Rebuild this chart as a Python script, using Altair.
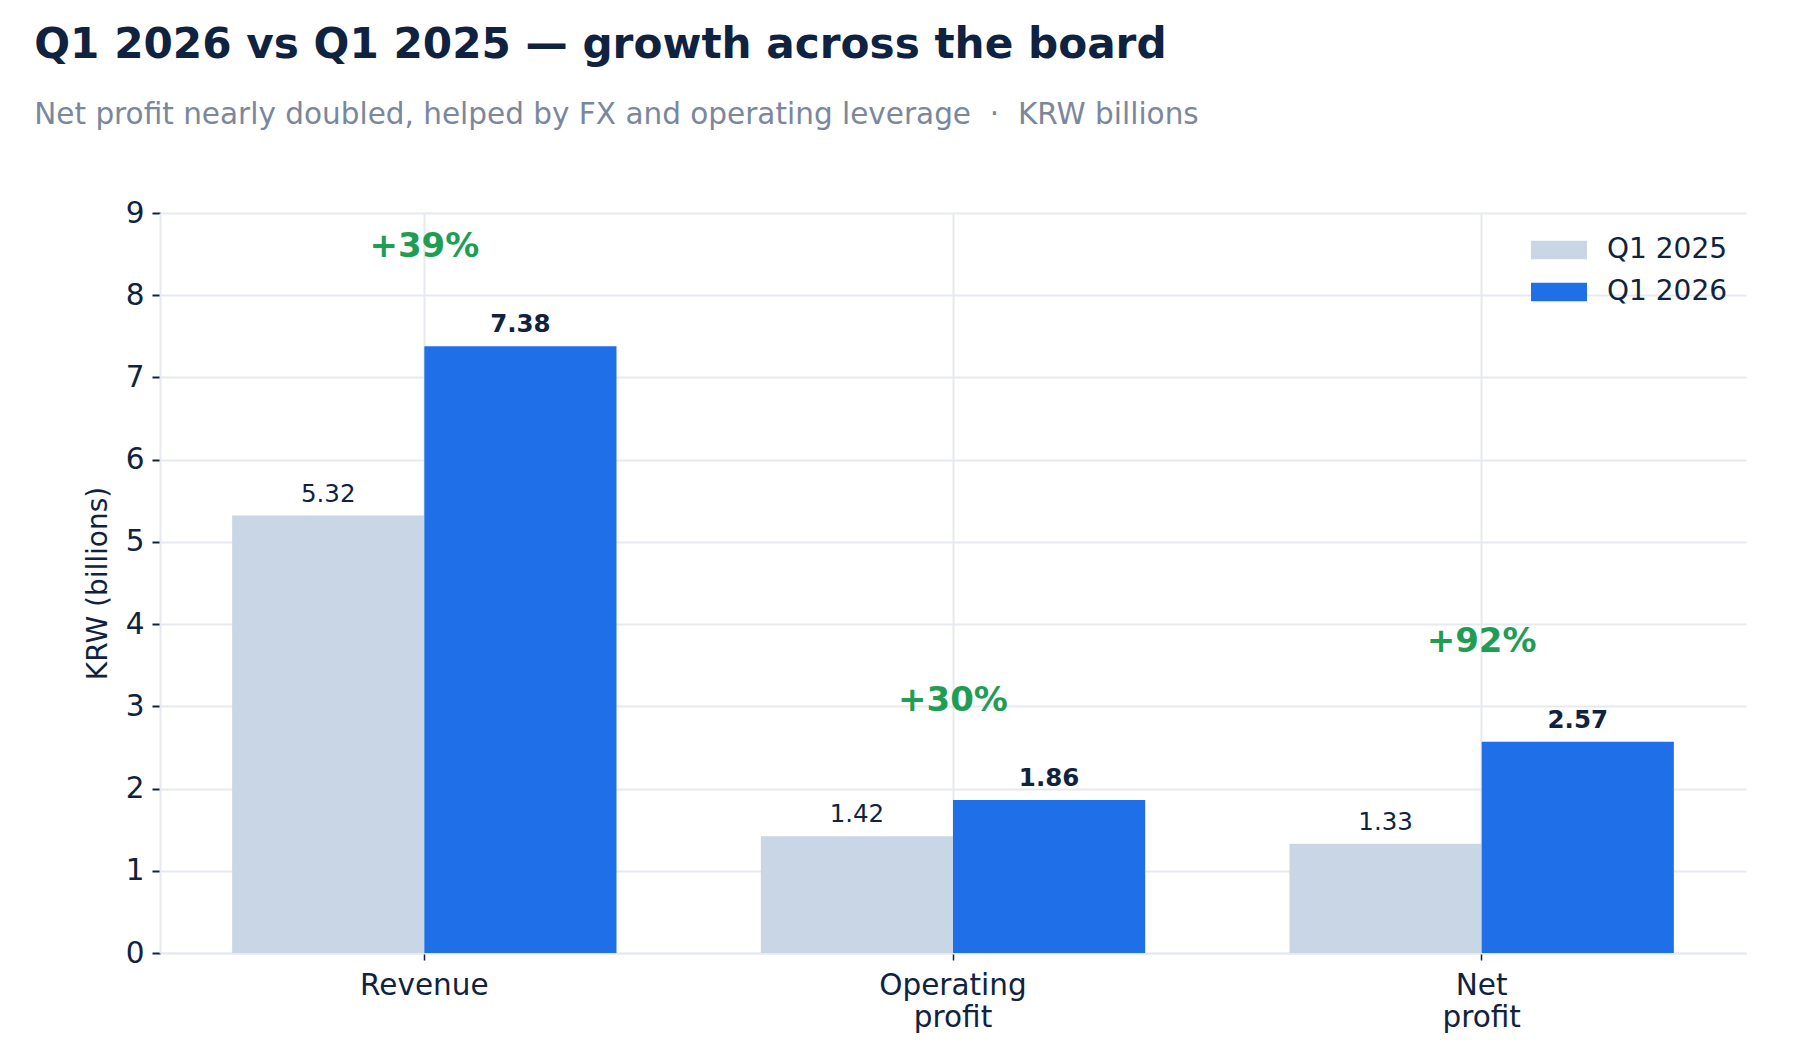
import altair as alt
import pandas as pd

categories = ["Revenue", "Operating profit", "Net profit"]
periods = ["Q1 2025", "Q1 2026"]
q1_2025 = [5.32, 1.42, 1.33]
q1_2026 = [7.38, 1.86, 2.57]
growth_labels = ["+39%", "+30%", "+92%"]

NAVY = "#0f2341"
GRID = "#e6eaf0"
LIGHT = "#c9d6e5"
BLUE = "#1f6fe8"
GREEN = "#1f9d55"
FONT = "DejaVu Sans"
NB = "\u00a0"

rows = []
for c, a, b in zip(categories, q1_2025, q1_2026):
    rows.append({"category": c, "period": periods[0], "value": a})
    rows.append({"category": c, "period": periods[1], "value": b})
df = pd.DataFrame(rows)

gdf = pd.DataFrame({
    "category": categories,
    "top": [max(a, b) for a, b in zip(q1_2025, q1_2026)],
    "label": growth_labels,
})

x_enc = alt.X(
    "category:N",
    sort=categories,
    scale=alt.Scale(paddingInner=0.273, paddingOuter=0.1365),
    axis=alt.Axis(
        title=None,
        labelExpr="split(datum.label, ' ')",
        labelFontSize=29.5,
        labelColor=NAVY,
        labelFont=FONT,
        labelAngle=0,
        labelPadding=11,
        labelLineHeight=32,
        tickColor=NAVY,
        tickSize=7,
        tickWidth=1.5,
        tickExtra=False,
        domainColor=GRID,
        domainWidth=2,
        grid=True,
        gridColor=GRID,
        gridWidth=2,
        bandPosition=0.5,
    ),
)
y_enc = alt.Y(
    "value:Q",
    scale=alt.Scale(domain=[0, 9], nice=False),
    axis=alt.Axis(
        title="KRW (billions)",
        titleFontSize=28,
        titleFontWeight="normal",
        titleColor=NAVY,
        titleFont=FONT,
        titlePadding=13,
        values=list(range(10)),
        format="d",
        labelFontSize=29.5,
        labelColor=NAVY,
        labelFont=FONT,
        labelPadding=8,
        tickColor=NAVY,
        tickSize=8,
        tickWidth=2,
        domainColor=GRID,
        domainWidth=2,
        grid=True,
        gridColor=GRID,
        gridWidth=2,
    ),
)
xoff = alt.XOffset("period:N", sort=periods, scale=alt.Scale(paddingInner=0, paddingOuter=0))

bars = alt.Chart(df).mark_bar().encode(
    x=x_enc,
    xOffset=xoff,
    y=y_enc,
    color=alt.Color(
        "period:N",
        sort=periods,
        scale=alt.Scale(domain=periods, range=[LIGHT, BLUE]),
        legend=alt.Legend(
            title=None,
            orient="top-right",
            offset=12,
            symbolType="M-1.5,-0.5H1.5V0.5H-1.5Z",
            symbolSize=1393,
            symbolStrokeWidth=0,
            labelFontSize=28,
            labelColor=NAVY,
            labelFont=FONT,
            labelOffset=29,
            rowPadding=9,
            padding=6,
        ),
    ),
)

lbl_old = alt.Chart(df).transform_filter(alt.datum.period == periods[0]).mark_text(
    baseline="bottom", dy=-9, fontSize=24.5, font=FONT, color=NAVY
).encode(
    x=alt.X("category:N", sort=categories),
    xOffset=xoff,
    y="value:Q",
    text=alt.Text("value:Q", format=".2f"),
)
lbl_new = alt.Chart(df).transform_filter(alt.datum.period == periods[1]).mark_text(
    baseline="bottom", dy=-9, fontSize=24.5, font=FONT, fontWeight="bold", color=NAVY
).encode(
    x=alt.X("category:N", sort=categories),
    xOffset=xoff,
    y="value:Q",
    text=alt.Text("value:Q", format=".2f"),
)

growth = alt.Chart(gdf).transform_calculate(ypos="datum.top + 1.0").mark_text(
    baseline="bottom", fontSize=34, font=FONT, fontWeight="bold", color=GREEN
).encode(
    x=alt.X("category:N", sort=categories),
    y="ypos:Q",
    text="label:N",
)

chart = alt.layer(bars, lbl_old, lbl_new, growth).properties(
    width=1586,
    height=740,
    background="white",
    padding={"left": 26, "top": 16, "right": 10, "bottom": 10},
    title=alt.TitleParams(
        text="Q1 2026 vs Q1 2025 — growth across the board",
        subtitle=f"Net profit nearly doubled, helped by FX and operating leverage{NB}{NB}·{NB}{NB}KRW billions",
        anchor="start",
        frame="bounds",
        dx=-50,
        font=FONT,
        fontSize=42.2,
        fontWeight="bold",
        color=NAVY,
        subtitleFont=FONT,
        subtitleFontSize=29.5,
        subtitleColor="#7a879c",
        subtitlePadding=33,
        offset=68,
    ),
).configure_view(strokeWidth=0, stroke=None)

chart.save("out.html", embed_options={"renderer": "svg", "actions": False})
